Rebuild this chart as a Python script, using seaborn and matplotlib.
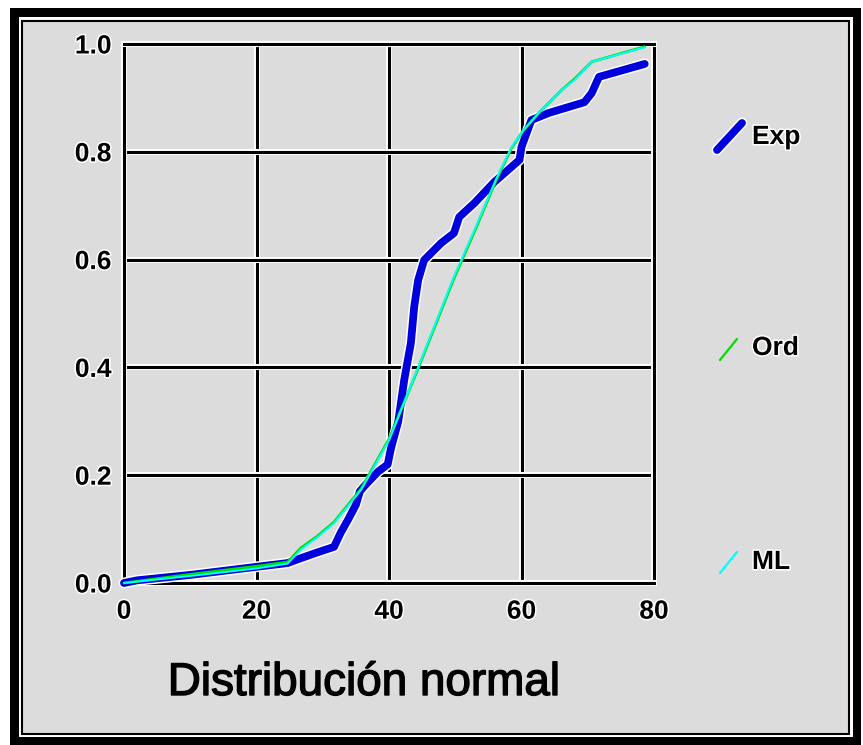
import matplotlib
matplotlib.use("Agg")
import matplotlib.pyplot as plt
import seaborn as sns
import pandas as pd
from matplotlib import patheffects as pe
from matplotlib.patches import Rectangle
from matplotlib.lines import Line2D

# ---------------- data ----------------
exp_x = [0, 2, 10, 20, 24.7, 26.7, 29, 31.7, 32.7, 33.8, 35.0, 35.6, 36.3, 38.3,
         39.8, 40.3, 41.4, 42.3, 43.3, 43.8, 44.4, 45.3, 47.9, 49.8, 50.6, 52.9,
         55.9, 59.7, 60.0, 61.5, 64.1, 69.5, 70.6, 71.7, 78.6]
exp_y = [0.0, 0.005, 0.015, 0.030, 0.037, 0.046, 0.056, 0.067, 0.093, 0.117,
         0.145, 0.170, 0.180, 0.206, 0.220, 0.250, 0.300, 0.377, 0.445, 0.512,
         0.562, 0.599, 0.631, 0.649, 0.679, 0.705, 0.744, 0.785, 0.809, 0.859,
         0.872, 0.892, 0.909, 0.939, 0.963]

model_x = [0, 10, 20, 24.7, 26.7, 29.2, 31.7, 35.8, 40.0, 44.4, 49.8, 52.9,
           56.2, 58.5, 60.3, 62.6, 66.1, 68.0, 70.6, 78.6]
ord_y = [0.0, 0.016, 0.031, 0.039, 0.065, 0.087, 0.113, 0.175, 0.267, 0.398,
         0.565, 0.652, 0.748, 0.807, 0.840, 0.872, 0.915, 0.935, 0.967, 0.995]
ml_y = [0.0, 0.013, 0.027, 0.036, 0.062, 0.085, 0.111, 0.173, 0.265, 0.400,
        0.568, 0.655, 0.750, 0.809, 0.840, 0.872, 0.915, 0.933, 0.967, 0.994]

x_ticks = [0, 20, 40, 60, 80]
x_labels = ["0", "20", "40", "60", "80"]
y_ticks = [0.0, 0.2, 0.4, 0.6, 0.8, 1.0]
y_labels = ["0.0", "0.2", "0.4", "0.6", "0.8", "1.0"]

series_names = ["Exp", "Ord", "ML"]
series_colors = ["#0000DD", "#00DD00", "#00FFFF"]
x_label = "Distribución normal"

# ---------------- style ----------------
sns.set_theme(style="white")
plt.rcParams["font.family"] = ["Liberation Sans", "DejaVu Sans"]

W, H = 863, 745
fig = plt.figure(figsize=(W / 100, H / 100), dpi=100)
fig.patch.set_facecolor("white")


def fx(px):
    return px / W


def fy(py):
    return 1 - py / H


# outer frame
fig.patches.append(Rectangle((fx(10), fy(745)), fx(861) - fx(10), fy(8) - fy(745),
                             transform=fig.transFigure, facecolor="black",
                             edgecolor="none", zorder=-10))
fig.patches.append(Rectangle((fx(19), fy(737)), fx(853) - fx(19), fy(17) - fy(737),
                             transform=fig.transFigure, facecolor="white",
                             edgecolor="none", zorder=-9))
fig.patches.append(Rectangle((fx(22), fy(734)), fx(849) - fx(22), fy(21) - fy(734),
                             transform=fig.transFigure, facecolor="#DCDCDC",
                             edgecolor="black", linewidth=1.5, zorder=-8))

ax = fig.add_axes([fx(124), fy(583), fx(654) - fx(124), fy(44) - fy(583)])
ax.set_facecolor("#DCDCDC")

halo = lambda lw: [pe.Stroke(linewidth=lw + 2.2, foreground="white"), pe.Normal()]
text_fx = [pe.Stroke(linewidth=2.2, foreground="white"), pe.Normal()]

df_exp = pd.DataFrame({"x": exp_x, "y": exp_y})
df_ord = pd.DataFrame({"x": model_x, "y": ord_y})
df_ml = pd.DataFrame({"x": model_x, "y": ml_y})

sns.lineplot(data=df_exp, x="x", y="y", ax=ax, sort=False, estimator=None,
             color=series_colors[0], linewidth=5.6, zorder=5)
sns.lineplot(data=df_ord, x="x", y="y", ax=ax, sort=False, estimator=None,
             color=series_colors[1], linewidth=2.0, zorder=6)
sns.lineplot(data=df_ml, x="x", y="y", ax=ax, sort=False, estimator=None,
             color=series_colors[2], linewidth=1.4, zorder=7)

for i, ln in enumerate(ax.get_lines()):
    ln.set_clip_on(False)
    ln.set_solid_capstyle("round")
    ln.set_solid_joinstyle("round")
    if i == 0:
        ln.set_path_effects(halo(5.6))

ax.set_xlim(0, 80)
ax.set_ylim(0, 1)
ax.set_xticks(x_ticks)
ax.set_xticklabels(x_labels)
ax.set_yticks(y_ticks)
ax.set_yticklabels(y_labels)
ax.set_xlabel("")
ax.set_ylabel("")

ax.grid(True, color="black", linewidth=2.2, zorder=1)
ax.set_axisbelow(True)
for gl in ax.xaxis.get_gridlines() + ax.yaxis.get_gridlines():
    gl.set_path_effects(halo(2.2))

for sp in ax.spines.values():
    sp.set_visible(True)
    sp.set_color("black")
    sp.set_linewidth(2.2)
    sp.set_path_effects(halo(2.2))

ax.tick_params(direction="out", length=6, width=2, color="black",
               labelsize=19, labelcolor="black")
ax.tick_params(axis="x", pad=6)
ax.tick_params(axis="y", pad=3)
for lab in ax.get_xticklabels() + ax.get_yticklabels():
    lab.set_fontweight("bold")
    lab.set_path_effects(text_fx)

fig.text(fx(364), fy(683), x_label, ha="center", va="center",
         fontsize=33, color="black",
         path_effects=[pe.Stroke(linewidth=1.0, foreground="black"), pe.Normal()])

# legend (manual, at right)
legend_items = [
    (series_names[0], series_colors[0], 5.6, (717, 150), (742, 123), 137),
    (series_names[1], series_colors[1], 1.6, (720, 360), (737, 339), 348),
    (series_names[2], series_colors[2], 1.6, (720, 573), (737, 552), 562),
]
for name, col, lw, p0, p1, ty in legend_items:
    l = Line2D([fx(p0[0]), fx(p1[0])], [fy(p0[1]), fy(p1[1])],
               transform=fig.transFigure, color=col, linewidth=lw,
               solid_capstyle="round")
    if lw > 3:
        l.set_path_effects(halo(lw))
    fig.lines.append(l)
    fig.text(fx(752), fy(ty), name, ha="left", va="center", fontsize=19,
             fontweight="bold", color="black", path_effects=text_fx)

fig.savefig("out.png", dpi=100, facecolor=fig.get_facecolor())
